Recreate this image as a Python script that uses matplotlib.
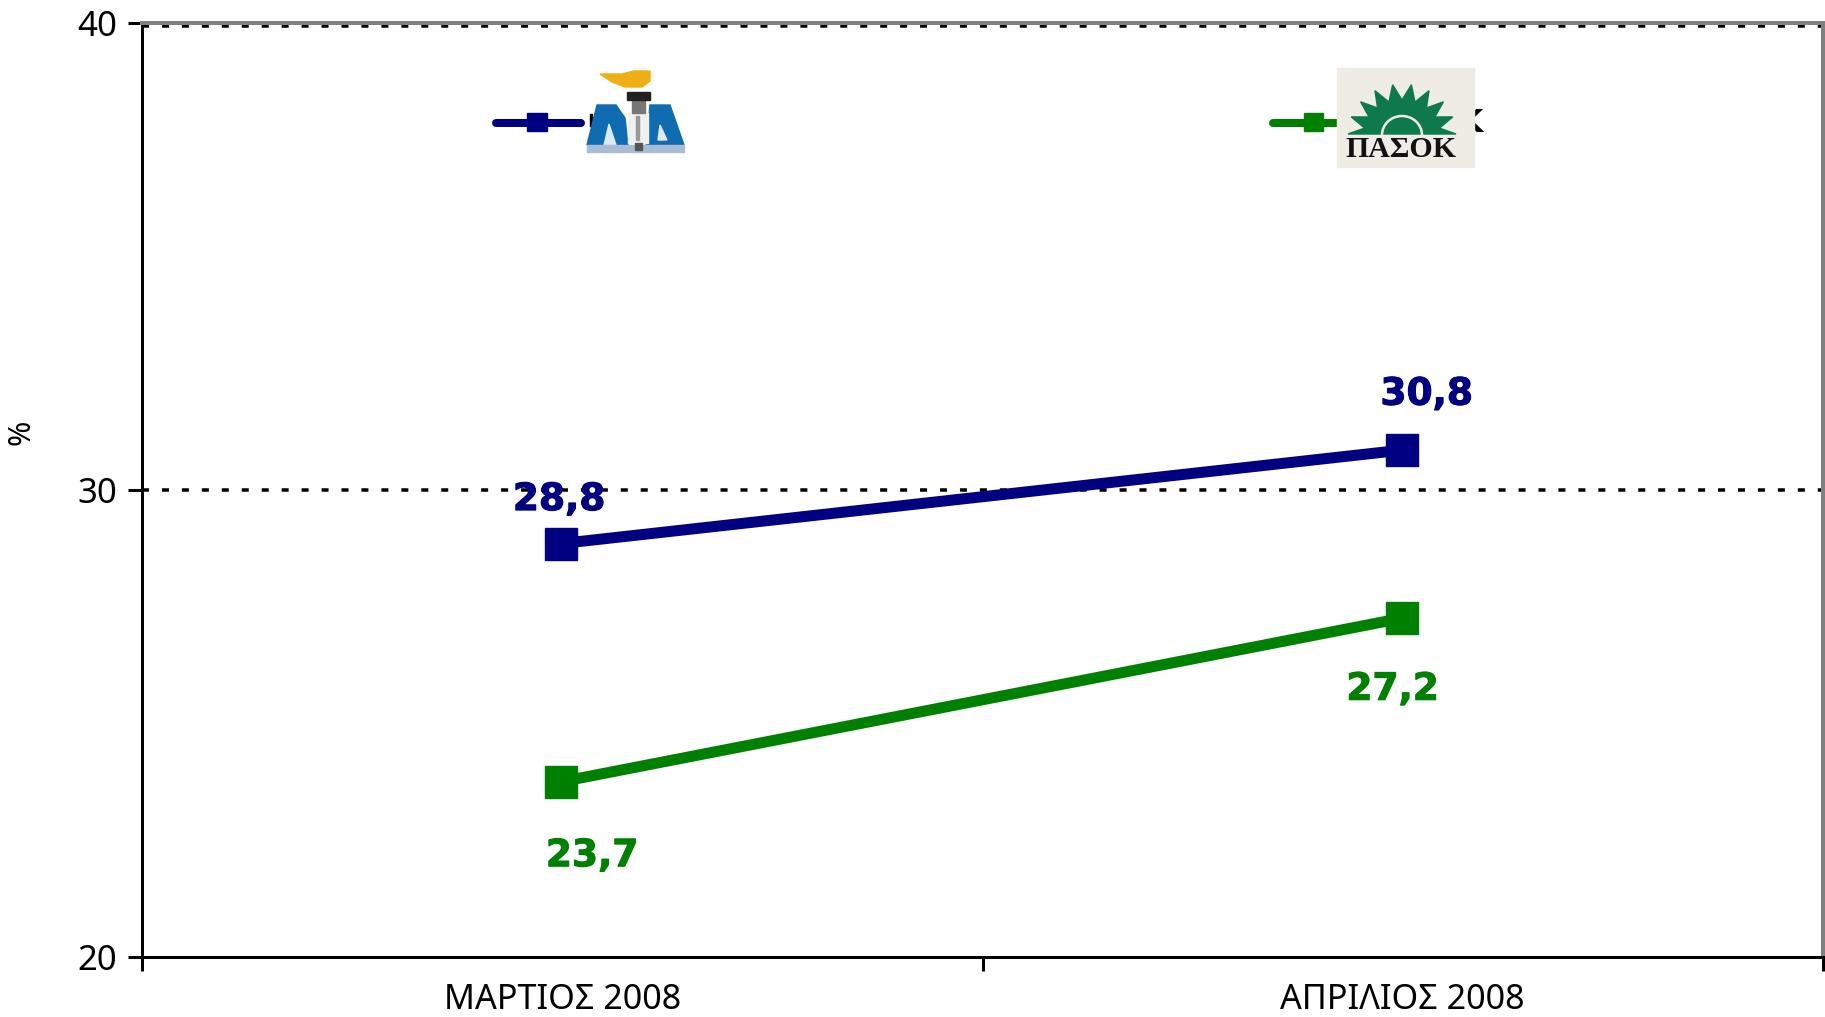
import numpy as np
import matplotlib
matplotlib.use("Agg")
import matplotlib.pyplot as plt
import matplotlib.patheffects as pe
from matplotlib.patches import Rectangle, Polygon, Arc
from matplotlib.transforms import Affine2D

months = ["ΜΑΡΤΙΟΣ 2008", "ΑΠΡΙΛΙΟΣ 2008"]
nd_values = [28.8, 30.8]
pasok_values = [23.7, 27.2]
nd_labels = ["28,8", "30,8"]
pasok_labels = ["23,7", "27,2"]
y_ticks = [20, 30, 40]

NAVY = "#000080"
GREEN = "#008000"
W, H = 1825, 1017
DPI = 100
PX = 72 / DPI

plt.rcParams["font.family"] = ["Noto Sans", "DejaVu Sans"]

fig = plt.figure(figsize=(W / DPI, H / DPI), dpi=DPI)
left, right, top, bottom = 142, 1823, 23, 957
ax = fig.add_axes([left / W, 1 - bottom / H, (right - left) / W, (bottom - top) / H])

x = np.array([0.5, 1.5])
ax.set_xlim(0, 2)
ax.set_ylim(20, 40)

# dotted grid
dots = (0, (2, 3.7))
ax.set_yticks(y_ticks)
ax.axhline(30, color="black", lw=3.5 * PX, linestyle=dots, zorder=1)
ax.plot([0, 2], [40, 40], color="black", lw=3.5 * PX, linestyle=dots, zorder=1,
        transform=ax.transData + Affine2D().translate(0, -2.5), clip_on=False)

# the plotted series sit a touch up and left of the nominal scale in the source
shift = ax.transData + Affine2D().translate(-1, 2.5)
ax.plot(x, nd_values, color=NAVY, lw=11 * PX, marker="s", ms=32 * PX, zorder=3,
        solid_capstyle="round", transform=shift)
ax.plot(x, pasok_values, color=GREEN, lw=11 * PX, marker="s", ms=32 * PX, zorder=3,
        solid_capstyle="round", transform=shift)

# data labels, offsets in px from the point
nd_off = [(-3, 46), (24, 58)]
pasok_off = [(30, -72), (-10, -69)]
stroke = {"NAVY": [pe.withStroke(linewidth=0.8, foreground=NAVY)],
          "GREEN": [pe.withStroke(linewidth=0.8, foreground=GREEN)]}
for i in range(2):
    ax.annotate(nd_labels[i], (x[i], nd_values[i]), xytext=(nd_off[i][0] * PX, nd_off[i][1] * PX),
                textcoords="offset points", ha="center", va="center", color=NAVY,
                fontsize=27, fontweight="bold", family="DejaVu Sans", zorder=4,
                path_effects=stroke["NAVY"])
    ax.annotate(pasok_labels[i], (x[i], pasok_values[i]), xytext=(pasok_off[i][0] * PX, pasok_off[i][1] * PX),
                textcoords="offset points", ha="center", va="center", color=GREEN,
                fontsize=27, fontweight="bold", family="DejaVu Sans", zorder=4,
                path_effects=stroke["GREEN"])

ax.spines["top"].set_color("#808080")
ax.spines["right"].set_color("#808080")
for s in ax.spines.values():
    s.set_linewidth(3 * PX)
ax.spines["top"].set_linewidth(4 * PX)
ax.spines["right"].set_linewidth(4 * PX)

ax.set_xticks([0, 1, 2])
ax.set_xticklabels([])
ax.set_xticks(x, minor=True)
ax.set_xticklabels(months, minor=True, fontsize=24.6)
ax.tick_params(axis="x", which="minor", length=0, pad=19)
ax.tick_params(axis="x", which="major", length=10, width=3 * PX)
ax.tick_params(axis="y", length=10, width=3 * PX, labelsize=25, pad=8)

# overlay in pixel coordinates for the legend and party logos
ov = fig.add_axes([0, 0, 1, 1], zorder=5)
ov.set_xlim(0, W)
ov.set_ylim(H, 0)
ov.axis("off")
ov.patch.set_alpha(0)

ov.text(22, 432, "%", rotation=90, ha="center", va="center", fontsize=22)

# legend entries
ov.plot([496, 581], [122.5, 122.5], color=NAVY, lw=8 * PX, solid_capstyle="round")
ov.add_patch(Rectangle((527, 113), 20, 18, color=NAVY))
ov.plot([1273, 1340], [122.5, 122.5], color=GREEN, lw=8 * PX, solid_capstyle="round")
ov.add_patch(Rectangle((1304, 113), 19, 18, color=GREEN))
ov.text(1484, 124, "ΠΑΣΟΚ", ha="right", va="center", fontsize=23, fontweight="bold",
        family="DejaVu Sans", zorder=1)
ov.add_patch(Rectangle((590, 114), 2, 12, color="black"))

# ND logo
ov.add_patch(Polygon([[600, 74], [622, 74], [634, 71], [650, 71], [650, 81], [642, 87], [625, 87], [612, 82]],
                     color="#EFAE14", zorder=3))
ov.add_patch(Polygon([[587, 145], [597, 105], [616, 105], [625, 118], [628, 145]],
                     color="#0F6CB0", zorder=3))
ov.add_patch(Polygon([[604, 145], [609, 124], [616, 145]], color="#DCE8F2", zorder=3))
ov.add_patch(Polygon([[646, 145], [650, 105], [670, 105], [684, 145]], color="#0F6CB0", zorder=3))
ov.add_patch(Polygon([[658, 140], [660, 125], [667, 140]], color="#DCE8F2", zorder=3))
ov.add_patch(Rectangle((587, 145), 97, 7, color="#A9BCD3", zorder=3))
ov.add_patch(Rectangle((628, 113), 20, 30, color="#F0F0F0", zorder=4))
ov.add_patch(Rectangle((636, 116), 3, 24, color="#999999", zorder=4))
ov.add_patch(Rectangle((632, 100), 13, 13, color="#777777", zorder=4))
ov.add_patch(Rectangle((635, 143), 7, 7, color="#555555", zorder=4))
ov.add_patch(Rectangle((627, 92), 23, 8, color="#222222", zorder=4))

# PASOK logo
ov.add_patch(Rectangle((1337, 68), 137, 99, color="#EEECE4", zorder=3))
cx, cy = 1402, 134
angles = np.radians(np.linspace(0, 180, 19))
sun = []
for k, a in enumerate(angles):
    tip = k % 2 == 0
    rx, ry = (54, 50) if tip else (38, 34)
    sun.append([cx + rx * np.cos(a), cy - ry * np.sin(a)])
ov.add_patch(Polygon(sun, color="#0E7A4B", zorder=4))
ov.add_patch(Arc((cx, cy + 1), 40, 38, theta1=180, theta2=360, color="#EEECE4", lw=2.5 * PX, zorder=5))
ov.text(1401, 149.5, "ΠΑΣΟΚ", ha="center", va="center", fontsize=21.5, fontweight="bold",
        family="Liberation Serif", color="#111111", zorder=5)

fig.savefig("out.png", dpi=DPI, facecolor="white")
